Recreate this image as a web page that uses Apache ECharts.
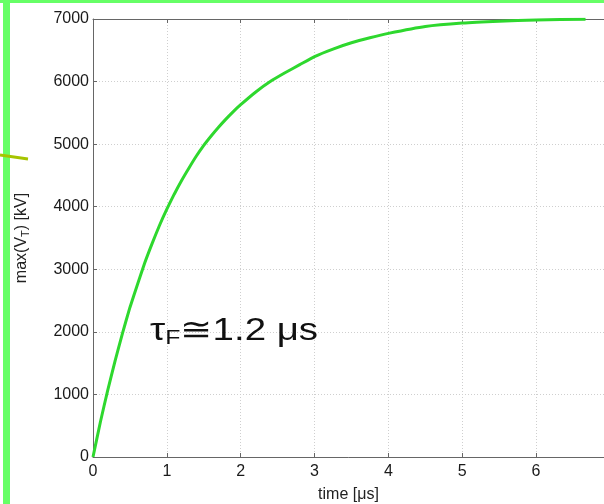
<!DOCTYPE html>
<html><head><meta charset="utf-8">
<script src="https://cdn.jsdelivr.net/npm/echarts@6/dist/echarts.min.js"></script>
<style>html,body{margin:0;padding:0;background:#fff}#c{width:604px;height:504px}</style>
</head><body><div id="c"></div>
<script>
const timeUs = [0,0.1,0.2,0.3,0.4,0.5,0.6,0.7,0.8,0.9,1.0,1.1,1.2,1.3,1.4,1.5,1.6,1.7,1.8,1.9,2.0,2.2,2.4,2.6,2.8,3.0,3.25,3.5,3.75,4.0,4.5,5.0,5.5,6.0,6.67];
const maxVT = [0,560,1070,1540,1980,2390,2750,3100,3410,3700,3960,4200,4420,4620,4810,4980,5130,5270,5400,5520,5630,5830,6000,6140,6270,6400,6520,6620,6700,6770,6880,6935,6965,6985,6995];
const xTicks = [0,1,2,3,4,5,6];
const yTicks = [0,1000,2000,3000,4000,5000,6000,7000];
const chart = echarts.init(document.getElementById('c'));
const font = 'Liberation Sans, Arial, sans-serif';
chart.setOption({
  animation:false,
  backgroundColor:'#fff',
  grid:{left:93,top:19,bottom:47,right:0,outerBoundsMode:'none',containLabel:false},
  xAxis:[{type:'value',min:0,max:6.92,interval:1,position:'bottom',
    name:'time [μs]',nameLocation:'middle',nameGap:30,
    nameTextStyle:{fontFamily:font,fontSize:16,color:'#222'},
    axisLine:{lineStyle:{color:'#666',width:1}},
    axisTick:{inside:true,length:4,lineStyle:{color:'#666'}},
    axisLabel:{fontFamily:font,fontSize:16,color:'#1a1a1a',margin:7,showMaxLabel:false,
      formatter:v=>xTicks.includes(v)?String(v):''},
    splitLine:{show:true,lineStyle:{color:'#cfcfcf',type:[1,2],width:1}}},
   {type:'value',min:0,max:6.92,interval:1,position:'top',
    axisLine:{lineStyle:{color:'#666',width:1}},
    axisTick:{inside:true,length:4,lineStyle:{color:'#666'}},
    axisLabel:{show:false},splitLine:{show:false}}],
  yAxis:{type:'value',min:0,max:7000,interval:1000,
    name:'max(V{sub|T}) [kV]',nameLocation:'middle',nameGap:62,nameRotate:90,
    nameTextStyle:{fontFamily:font,fontSize:16,color:'#222',
      rich:{sub:{fontSize:11,verticalAlign:'bottom',padding:[8,0,0,0],fontFamily:font,color:'#222'}}},
    axisLine:{show:true,lineStyle:{color:'#666',width:1}},
    axisTick:{show:true,inside:true,length:4,lineStyle:{color:'#666'}},
    axisLabel:{fontFamily:font,fontSize:16,color:'#1a1a1a',margin:4,
      formatter:v=>yTicks.includes(v)?String(v):''},
    splitLine:{show:true,lineStyle:{color:'#cfcfcf',type:[1,2],width:1}}},
  series:[{type:'line',xAxisIndex:0,data:timeUs.map((t,i)=>[t,maxVT[i]]),
    smooth:0.15,showSymbol:false,lineStyle:{color:'#2ed82e',width:3}}],
  graphic:[
    {type:'rect',shape:{x:0,y:0,width:604,height:3},style:{fill:'#66ff66'},z:100},
    {type:'rect',shape:{x:3,y:0,width:7,height:504},style:{fill:'#66ff66'},z:100},
    {type:'line',shape:{x1:0,y1:155,x2:28,y2:159},style:{stroke:'#a6c400',lineWidth:3},z:101},
    {type:'text',x:150,y:314,scaleX:1.24,z:50,style:{
      text:'τ{s|F}≅1.2 μs',fontFamily:font,fontSize:31,fill:'#111',
      rich:{s:{fontSize:20,fontFamily:font,fill:'#111',verticalAlign:'bottom',padding:[14,0,0,0]}}}}
  ]
});
</script></body></html>
